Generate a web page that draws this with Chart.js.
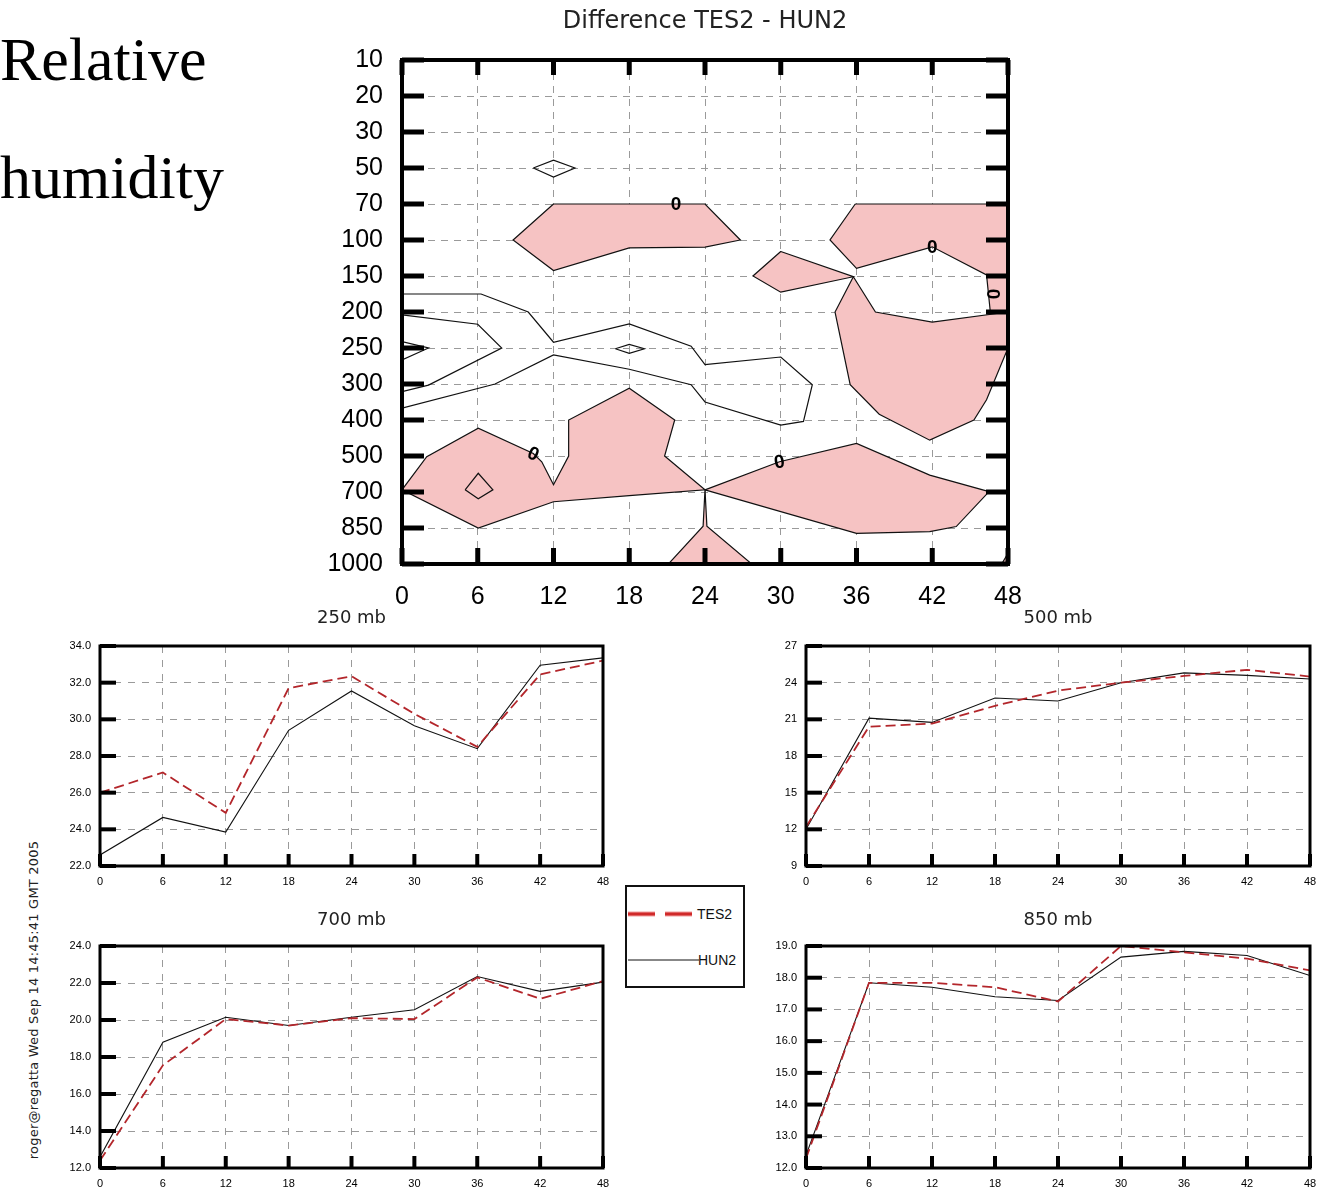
<!DOCTYPE html>
<html><head><meta charset="utf-8">
<script src="https://cdn.jsdelivr.net/npm/chart.js@4.4.1/dist/chart.umd.min.js"></script>
<style>
html,body{margin:0;padding:0;background:#fff;width:1321px;height:1193px;overflow:hidden;position:relative}
canvas{position:absolute}
.txt{position:absolute;white-space:nowrap;color:#000}
#t1,#t2{font-family:'Liberation Serif',serif;font-size:62px;line-height:62px;left:0}
#t1{top:28px}#t2{top:146px}
#foot{left:33px;top:1000px;font:13px 'DejaVu Sans',sans-serif;letter-spacing:0.2px;color:#222;transform:translate(-50%,-50%) rotate(-90deg)}
#legend{position:absolute;left:625px;top:885px;width:116px;height:99px;border:2px solid #111;background:#fff}
.lt{position:absolute;font:14px 'Liberation Sans',sans-serif;color:#111}
</style></head><body>
<div class="txt" id="t1">Relative</div>
<div class="txt" id="t2">humidity</div>
<div class="txt" id="foot">roger@regatta Wed Sep 14 14:45:41 GMT 2005</div>

<canvas id="cC" width="810" height="620" style="left:300px;top:0px"></canvas>
<canvas id="c250" width="603" height="300" style="left:50px;top:600px"></canvas>
<canvas id="c500" width="604" height="300" style="left:756px;top:600px"></canvas>
<canvas id="c700" width="603" height="302" style="left:50px;top:900px"></canvas>
<canvas id="c850" width="604" height="302" style="left:756px;top:900px"></canvas>

<div id="legend">
  <svg width="116" height="99" style="position:absolute;left:0;top:0">
    <line x1="1" y1="27" x2="68" y2="27" stroke="#f2a0a0" stroke-width="5" stroke-dasharray="27,10"/>
    <line x1="1" y1="27" x2="68" y2="27" stroke="#d02a2a" stroke-width="3" stroke-dasharray="27,10"/>
    <line x1="1" y1="73" x2="72" y2="73" stroke="#111" stroke-width="1"/>
  </svg>
  <div class="lt" style="left:70px;top:19px">TES2</div>
  <div class="lt" style="left:71px;top:65px">HUN2</div>
</div>

<script>
// ---------- data ----------
const hours = [0, 6, 12, 18, 24, 30, 36, 42, 48];
const pressureLevels = ['10','20','30','50','70','100','150','200','250','300','400','500','700','850','1000'];

const tes2_250 = [26.0, 27.1, 24.9, 31.7, 32.35, 30.3, 28.5, 32.45, 33.2];
const hun2_250 = [22.6, 24.65, 23.85, 29.4, 31.55, 29.65, 28.4, 32.95, 33.35];
const tes2_500 = [12.2, 20.4, 20.65, 22.1, 23.35, 24.0, 24.55, 25.05, 24.5];
const hun2_500 = [12.0, 21.1, 20.75, 22.75, 22.5, 24.0, 24.8, 24.6, 24.3];
const tes2_700 = [12.4, 17.55, 20.05, 19.7, 20.1, 20.05, 22.3, 21.15, 22.1];
const hun2_700 = [12.6, 18.8, 20.15, 19.7, 20.15, 20.55, 22.35, 21.55, 22.05];
const tes2_850 = [12.3, 17.84, 17.84, 17.7, 17.25, 19.0, 18.8, 18.6, 18.23];
const hun2_850 = [12.4, 17.84, 17.7, 17.4, 17.28, 18.65, 18.83, 18.7, 18.07];

// contour regions of the difference field: [forecast hour, pressure-level position (0 = 10 mb ... 14 = 1000 mb)]
const posUpperMid   = [[12,4],[24,4],[26.8,5],[24,5.2],[18,5.22],[12,5.85],[8.8,5]];
const posSmall150   = [[30,5.32],[35.75,6.02],[30,6.45],[27.8,6.0]];
const posUpperRight = [[35.9,4],[48,4],[48,7.0],[46.6,7.0],[46.3,5.97],[42,5.19],[36,5.79],[33.9,5.0]];
const posRightMid   = [[35.75,6.02],[37.5,7.0],[42,7.28],[48,7.0],[48,8.0],[46.3,9.44],[45.3,10.0],[41.8,10.56],[37.8,9.84],[35.5,9.02],[34.3,7.0]];
const posLowerLeft  = [[0,11.94],[1.96,11.02],[6.04,10.23],[10.4,10.93],[11.07,11.16],[12,11.8],[13.2,11.0],[13.2,10.0],[18,9.12],[21.6,10.0],[20.8,11.0],[24,11.94],[18,12.1],[12,12.27],[6.04,13.0]];
const posLowerRight = [[24,11.94],[29.9,11.16],[36,10.65],[41.8,11.53],[46.5,11.99],[43.9,12.96],[41.8,13.1],[36,13.15]];
const posBottomTri  = [[24,11.94],[24.15,12.95],[27.7,14],[21.1,14],[23.85,12.95]];
const posCorner     = [[47.5,14],[48,13.7],[48,14]];
// contour lines (not shaded)
const lineBand   = [[0,6.5],[6.26,6.5],[10,7.0],[12,7.84],[18,7.33],[22.9,7.95],[24,8.46],[30,8.25],[32.5,9.02],[31.8,10.04],[30,10.14],[24,9.5],[22.9,9.02],[18,8.59],[12,8.19],[7.37,9.0],[0,9.67]];
const lineInner  = [[0,7.08],[6,7.34],[7.9,8.0],[2.1,9.03],[0,9.21]];
const lineWedge  = [[0,7.82],[2.1,8.0],[0,8.33]];
const ring50     = [[10.4,3.0],[12,2.78],[13.7,3.0],[12,3.25]];
const ring250    = [[16.9,8.02],[18,7.9],[19.2,8.02],[18,8.15]];
const ring700    = [[5,11.94],[6.04,11.48],[7.2,11.94],[6.04,12.19]];
const zeroLabelPos = [[21.7,4.0],[42,5.19],[46.8,6.5],[10.4,10.93],[29.9,11.16]];
const zeroLabelRot = [0, 0, 90, 25, -10];

// ---------- plugins ----------
const frameTicks = {
  id: 'frameTicks',
  afterDatasetsDraw(chart, args, o) {
    const {ctx, chartArea: a, scales: {x, y}} = chart;
    ctx.save();
    ctx.strokeStyle = '#000';
    ctx.lineWidth = o.tickWidth;
    const seg = (x1, y1, x2, y2) => { ctx.beginPath(); ctx.moveTo(x1, y1); ctx.lineTo(x2, y2); ctx.stroke(); };
    y.ticks.forEach(t => {
      const py = y.getPixelForValue(t.value);
      if (o.left) seg(a.left, py, a.left + o.left, py);
      if (o.right) seg(a.right - o.right, py, a.right, py);
    });
    x.ticks.forEach(t => {
      const px = x.getPixelForValue(t.value);
      if (o.top) seg(px, a.top, px, a.top + o.top);
      if (o.bottom) seg(px, a.bottom - o.bottom, px, a.bottom);
    });
    ctx.lineWidth = o.frameWidth;
    ctx.strokeRect(a.left, a.top, a.right - a.left, a.bottom - a.top);
    ctx.restore();
  }
};
const zeroLabels = {
  id: 'zeroLabels',
  afterDatasetsDraw(chart, args, o) {
    if (!o.pos) return;
    const {ctx, scales: {x, y}} = chart;
    ctx.save();
    ctx.font = 'bold 19px "Liberation Sans"';
    ctx.textAlign = 'center';
    ctx.textBaseline = 'middle';
    ctx.fillStyle = '#000';
    o.pos.forEach((p, i) => {
      ctx.save();
      ctx.translate(x.getPixelForValue(p[0]), y.getPixelForValue(p[1]));
      ctx.rotate((o.rot[i] || 0) * Math.PI / 180);
      ctx.fillText('0', 0, 1);
      ctx.restore();
    });
    ctx.restore();
  }
};
Chart.register(frameTicks, zeroLabels);

// ---------- contour chart ----------
const PINK = '#f6c3c3';
const toXY = pts => pts.map(p => ({x: p[0], y: p[1]}));
function region(pts) {
  const d = toXY(pts); d.push({...d[0]});
  return {data: d, fill: 'shape', backgroundColor: PINK, borderColor: '#111', borderWidth: 1.2, pointRadius: 0, tension: 0};
}
function contour(pts, closed) {
  const d = toXY(pts); if (closed) d.push({...d[0]});
  return {data: d, fill: false, borderColor: '#111', borderWidth: 1.2, pointRadius: 0, tension: 0};
}

new Chart(document.getElementById('cC'), {
  type: 'line',
  data: {datasets: [
    contour(lineBand), contour(lineInner), contour(lineWedge),
    contour(ring50, true), contour(ring250, true), contour(ring700, true),
    region(posUpperMid), region(posSmall150), region(posUpperRight), region(posRightMid),
    region(posLowerLeft), region(posLowerRight), region(posBottomTri), region(posCorner)
  ]},
  options: {
    responsive: false, animation: false, events: [],
    layout: {padding: {left: 0, right: 102, top: 0, bottom: 0}},
    plugins: {
      legend: {display: false}, tooltip: {enabled: false},
      title: {display: true, fullSize: false, text: 'Difference TES2 - HUN2', color: '#222',
        font: {family: 'DejaVu Sans', size: 24, weight: 'normal', lineHeight: 1.2},
        padding: {top: 7, bottom: 24.2}},
      frameTicks: {tickWidth: 5, frameWidth: 4, left: 22, right: 22, top: 15, bottom: 16},
      zeroLabels: {pos: zeroLabelPos, rot: zeroLabelRot}
    },
    scales: {
      x: {type: 'linear', min: 0, max: 48,
        afterFit: s => { s.height = 56; },
        ticks: {stepSize: 6, color: '#000', padding: 18, font: {family: 'Liberation Sans', size: 25}},
        grid: {color: '#9a9a9a', lineWidth: 1, drawTicks: false},
        border: {display: false, dash: [7, 6]}},
      y: {type: 'linear', min: 0, max: 14, reverse: true,
        afterFit: s => { s.width = 102; },
        ticks: {stepSize: 1, color: '#000', padding: 19, font: {family: 'Liberation Sans', size: 25},
          callback: v => pressureLevels[v]},
        grid: {color: '#9a9a9a', lineWidth: 1, drawTicks: false},
        border: {display: false, dash: [7, 6]}}
    }
  }
});

// ---------- line charts ----------
function lineChart(id, title, tes2, hun2, ymin, ymax, step, dec, padTop, padBottom) {
  new Chart(document.getElementById(id), {
    type: 'line',
    data: {datasets: [
      {label: 'TES2', data: hours.map((h, i) => ({x: h, y: tes2[i]})), borderColor: '#b3262b', borderWidth: 1.8,
       borderDash: [10, 5], pointRadius: 0, tension: 0, fill: false},
      {label: 'HUN2', data: hours.map((h, i) => ({x: h, y: hun2[i]})), borderColor: '#111', borderWidth: 1.1,
       pointRadius: 0, tension: 0, fill: false}
    ]},
    options: {
      responsive: false, animation: false, events: [],
      layout: {padding: {left: 0, right: 50, top: 0, bottom: 0}},
      plugins: {
        legend: {display: false}, tooltip: {enabled: false},
        title: {display: true, fullSize: false, text: title, color: '#222',
          font: {family: 'DejaVu Sans', size: 18, weight: 'normal', lineHeight: 1.2},
          padding: {top: padTop, bottom: padBottom}},
        frameTicks: {tickWidth: 4, frameWidth: 3, left: 16, bottom: 12}
      },
      scales: {
        x: {type: 'linear', min: 0, max: 48,
          afterFit: s => { s.height = 34; },
          ticks: {stepSize: 6, color: '#000', padding: 9, font: {family: 'Liberation Sans', size: 11}},
          grid: {color: '#9a9a9a', lineWidth: 1, drawTicks: false},
          border: {display: false, dash: [7, 7]}},
        y: {type: 'linear', min: ymin, max: ymax,
          afterFit: s => { s.width = 50; },
          ticks: {stepSize: step, color: '#000', padding: 9, font: {family: 'Liberation Sans', size: 11},
            callback: v => v.toFixed(dec)},
          grid: {color: '#9a9a9a', lineWidth: 1, drawTicks: false},
          border: {display: false, dash: [7, 7]}}
      }
    }
  });
}
lineChart('c250', '250 mb', tes2_250, hun2_250, 22, 34, 2, 1, 8, 16.4);
lineChart('c500', '500 mb', tes2_500, hun2_500, 9, 27, 3, 0, 8, 16.4);
lineChart('c700', '700 mb', tes2_700, hun2_700, 12, 24, 2, 1, 10, 14.4);
lineChart('c850', '850 mb', tes2_850, hun2_850, 12, 19, 1, 1, 10, 14.4);
</script>
</body></html>
